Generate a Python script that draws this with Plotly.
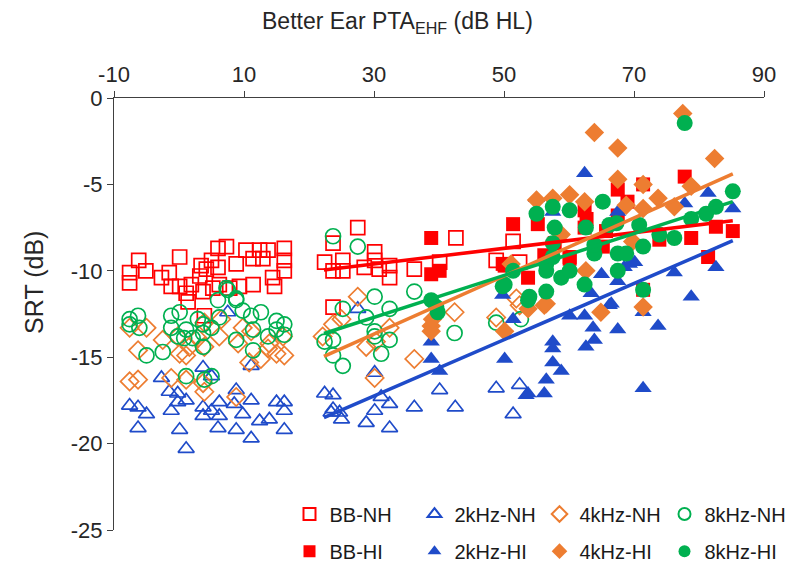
import plotly.graph_objects as go

# ---------------- data ----------------
bb_nh_x = [-7.6, -7.6, -6.2, -5.1, -2.7, -1.5, 0.1, -1.2, 0.1, 1.1, 1.4, 1.9, 3.2, 3.4, 3.7, 3.9, 4.2, 5.0, 5.2,
           6.0, 6.0, 7.3, 6.2, 7.8, 8.8, 9.3, 10.3, 11.4, 12.4, 13.7, 12.9, 11.4, 14.4, 14.7, 16.2, 16.2, 16.2,
           22.4, 23.7, 23.7, 23.7, 25.2, 25.2, 27.5, 28.5, 30.1, 30.1, 30.8, 32.4, 32.4, 36.2, 40.1, 42.6,
           48.8, 51.4, 52.4]
bb_nh_y = [-10.1, -10.7, -9.4, -10.0, -10.4, -10.1, -9.2, -10.9, -10.9, -11.3, -11.8, -10.8, -10.3, -9.7, -11.2,
           -12.6, -9.9, -9.4, -11.0, -8.7, -9.8, -8.6, -10.8, -11.0, -9.6, -10.9, -8.8, -9.3, -8.8, -8.8, -9.3,
           -10.8, -10.4, -10.9, -8.7, -9.4, -10.0,
           -9.5, -8.4, -10.0, -12.1, -9.4, -10.0, -7.5, -9.8, -8.9, -9.4, -9.9, -9.7, -10.4, -9.9, -9.5, -8.1,
           -9.4, -8.3, -9.5]

k2_nh_x = [3.7, -2.7, 11.1, -7.6, -6.3, -5.0, -6.3, -1.5, -0.2, -1.2, 1.1, 0.1, 1.1, 3.7, 3.7, 5.0, 6.2, 6.2,
           8.8, 8.5, 9.8, 11.1, 8.8, 6.0, 11.1, 12.4, 13.9, 15.0, 16.2, 16.2, 16.2, -0.2, 5.0, 7.5,
           22.4, 23.7, 23.7, 24.7, 25.0, 23.4, 28.8, 30.1, 31.1, 32.4, 32.4, 36.2, 40.1, 42.5, 48.8, 52.4,
           51.4, 30.1, 27.5]
k2_nh_y = [-15.6, -16.2, -15.5, -17.8, -17.9, -18.3, -19.1, -17.0, -17.6, -18.1, -17.5, -19.2, -20.3, -17.9,
           -18.4, -18.1, -17.6, -18.4, -16.9, -17.7, -18.3, -17.5, -19.2, -19.1, -19.7, -18.7, -18.6, -17.6,
           -17.6, -18.1, -19.2, -17.1, -16.1, -12.4,
           -17.1, -17.2, -18.0, -18.2, -18.6, -18.2, -18.8, -18.1, -17.3, -17.7, -19.1, -17.9, -16.9, -17.9,
           -16.8, -16.6, -18.3, -15.9, -12.2]

k4_nh_x = [-7.6, -5.0, -6.3, -7.6, -6.3, -2.5, -1.2, -0.2, 0.1, 1.1, 1.6, 1.1, 3.9, 3.9, 3.9, 6.2, 6.5, 8.8,
           9.1, 9.8, 11.1, 10.8, 12.6, 13.9, 15.0, 16.2, 16.0, 2.9, 3.7, 13.7,
           22.1, 23.7, 25.0, 27.5, 28.8, 30.3, 30.1, 32.4, 36.2, 42.4, 48.8, 51.9, 52.4]
k4_nh_y = [-13.3, -13.3, -14.6, -16.4, -16.3, -14.0, -16.2, -13.8, -14.8, -14.9, -14.4, -16.3, -13.0, -14.4,
           -17.0, -13.8, -12.8, -17.3, -14.2, -13.3, -13.5, -15.3, -15.1, -14.2, -14.8, -14.9, -13.8, -13.9,
           -16.5, -14.5,
           -13.8, -13.1, -12.8, -11.5, -14.4, -14.1, -16.2, -13.3, -15.1, -12.4, -12.7, -11.6, -12.0]

k8_nh_x = [-7.6, -7.6, -6.3, -6.1, -5.0, -2.5, -1.2, 0.1, -1.2, -0.2, 1.1, 0.8, 2.1, 3.7, 3.7, 3.7, 5.0, 6.0,
           6.2, 7.5, 8.8, 8.8, 9.8, 11.1, 11.4, 11.4, 12.6, 13.7, 15.0, 15.0, 16.2, 16.2, 1.1, 3.9, 5.0,
           7.3, 8.8, 2.9,
           23.7, 27.5, 36.2, 30.1, 32.4, 25.2, 28.8, 22.4, 23.7, 23.7, 30.1, 30.1, 32.4, 31.1, 25.2, 42.4,
           48.8, 52.6]
k8_nh_y = [-12.8, -13.1, -12.6, -13.3, -14.9, -14.7, -12.6, -12.4, -13.3, -13.8, -13.4, -13.9, -13.9, -13.1,
           -13.6, -14.4, -13.3, -11.7, -12.7, -11.1, -11.7, -14.0, -12.3, -12.6, -13.4, -14.6, -12.4, -13.8,
           -12.9, -13.4, -13.1, -13.7, -16.1, -16.3, -16.1, -11.0, -11.6, -12.8,
           -8.0, -8.6, -11.2, -11.5, -12.2, -12.2, -12.7, -14.1, -14.0, -14.9, -13.5, -13.8, -14.0, -14.8,
           -15.5, -13.6, -13.0, -12.8]

bb_hi_x = [38.8, 38.8, 40.1, 49.8, 50.1, 51.4, 53.7, 55.2, 56.2, 56.5, 57.8, 60.1, 60.1, 62.4, 62.7, 62.4,
           65.2, 65.7, 67.5, 67.5, 69.0, 71.4, 71.4, 73.9, 77.8, 78.8, 81.4, 82.6, 85.2]
bb_hi_y = [-8.1, -10.2, -10.0, -9.6, -9.7, -7.3, -10.4, -7.3, -9.1, -9.2, -8.4, -9.2, -9.3, -6.5, -7.0, -7.5,
           -8.6, -7.7, -5.3, -6.8, -6.0, -5.0, -11.1, -8.2, -4.55, -8.1, -9.2, -7.45, -7.7]

k2_hi_x = [38.8, 38.8, 40.1, 49.8, 50.1, 51.4, 53.4, 53.7, 55.0, 56.2, 56.5, 57.5, 57.5, 57.5, 57.5, 58.8,
           60.1, 62.4, 62.4, 62.6, 63.4, 63.7, 63.9, 65.0, 66.2, 66.5, 67.5, 67.5, 67.5, 68.5, 69.3, 70.1,
           71.4, 71.4, 73.7, 76.2, 77.8, 78.8, 81.4, 82.6, 85.2]
k2_hi_y = [-14.1, -15.1, -15.8, -11.4, -15.1, -12.8, -17.2, -17.1, -5.8, -17.1, -16.3, -6.6, -14.1, -14.5,
           -15.3, -15.8, -12.6, -4.35, -12.6, -14.4, -11.3, -13.3, -14.0, -10.2, -12.0, -11.9, -6.6, -10.6,
           -13.4, -9.8, -9.6, -9.5, -12.4, -16.8, -13.2, -10.1, -6.1, -11.5, -5.5, -9.8, -6.4]

k4_hi_x = [38.8, 38.8, 39.0, 50.1, 51.1, 53.7, 55.0, 56.2, 56.5, 57.5, 58.8, 60.1, 62.4, 62.6, 63.9, 64.9,
           67.5, 67.5, 68.8, 69.8, 71.4, 71.4, 71.4, 73.7, 76.2, 77.5, 78.8, 82.4]
k4_hi_y = [-13.2, -13.5, -12.8, -13.5, -9.6, -12.2, -5.9, -12.0, -11.9, -5.8, -7.9, -5.6, -6.0, -10.0, -2.0,
           -12.4, -2.9, -4.7, -6.2, -8.3, -5.0, -6.4, -12.1, -5.8, -6.3, -0.9, -5.1, -3.5]

k8_hi_x = [38.8, 39.6, 39.8, 49.8, 50.1, 51.4, 53.7, 53.9, 55.0, 56.5, 56.5, 56.5, 57.5, 57.5, 57.5, 57.8,
           58.8, 60.1, 60.1, 62.4, 62.6, 63.9, 63.9, 65.2, 66.2, 67.3, 67.5, 67.5, 68.8, 70.8, 71.4, 71.4,
           73.9, 76.2, 77.8, 78.8, 81.1, 82.6, 85.2]
k8_hi_y = [-11.7, -12.1, -12.4, -10.9, -10.8, -10.0, -11.7, -11.5, -6.7, -11.2, -10.0, -9.6, -9.2, -6.3, -8.4,
           -7.5, -10.4, -10.0, -6.5, -10.8, -7.5, -9.0, -8.5, -6.0, -7.35, -7.25, -9.0, -10.0, -9.0, -7.35,
           -8.6, -11.1, -7.9, -8.1, -1.45, -7.0, -6.7, -6.3, -5.4]

# linear trend lines (end points)
trend_x = [22.3, 85.2]
bb_trend = [-9.96, -7.1]
k2_trend = [-18.5, -8.26]
k4_trend = [-14.95, -4.39]
k8_trend = [-13.63, -6.0]

x_ticks = [-10, 10, 30, 50, 70, 90]
y_ticks = [0, -5, -10, -15, -20, -25]

RED = "#FF0000"
BLUE = "#1F4BC9"
ORANGE = "#ED7D31"
GREEN = "#00B050"
FONT = "Liberation Sans, Arial, sans-serif"

fig = go.Figure()

open_series = [
    ("BB-NH", bb_nh_x, bb_nh_y, RED, "square-open", 14),
    ("2kHz-NH", k2_nh_x, k2_nh_y, BLUE, "triangle-up-open", 14),
    ("4kHz-NH", k4_nh_x, k4_nh_y, ORANGE, "diamond-open", 14),
    ("8kHz-NH", k8_nh_x, k8_nh_y, GREEN, "circle-open", 15),
]
filled_series = [
    ("BB-HI", bb_hi_x, bb_hi_y, RED, "square", 14),
    ("2kHz-HI", k2_hi_x, k2_hi_y, BLUE, "triangle-up", 15),
    ("4kHz-HI", k4_hi_x, k4_hi_y, ORANGE, "diamond", 15),
    ("8kHz-HI", k8_hi_x, k8_hi_y, GREEN, "circle", 16),
]

for name, xs, ys, col, sym, sz in open_series:
    fig.add_trace(go.Scatter(
        x=xs, y=ys, mode="markers", name=name, legend="legend",
        marker=dict(symbol=sym, size=sz, color=col, line=dict(color=col, width=1.7)),
    ))

for name, xs, ys, col, sym, sz in filled_series:
    fig.add_trace(go.Scatter(
        x=xs, y=ys, mode="markers", name=name, legend="legend2",
        marker=dict(symbol=sym, size=sz, color=col, line=dict(width=0)),
    ))

for ys, col in [(bb_trend, RED), (k2_trend, BLUE), (k4_trend, ORANGE), (k8_trend, GREEN)]:
    fig.add_trace(go.Scatter(
        x=trend_x, y=ys, mode="lines", showlegend=False, hoverinfo="skip",
        line=dict(color=col, width=3.5),
    ))

legend_common = dict(
    orientation="h", xanchor="left", yanchor="middle",
    font=dict(family=FONT, size=20, color="#1a1a1a"),
    bgcolor="rgba(0,0,0,0)", itemsizing="constant",
    entrywidth=80, entrywidthmode="pixels", tracegroupgap=0,
)

fig.update_layout(
    width=785, height=567,
    margin=dict(l=113.5, r=21, t=98.3, b=37, autoexpand=False),
    paper_bgcolor="white", plot_bgcolor="white",
    font=dict(family=FONT, color="#333333"),
    showlegend=True,
    hovermode=False,
    legend=dict(x=0.27, y=0.037, **legend_common),
    legend2=dict(x=0.27, y=-0.049, **legend_common),
    xaxis=dict(
        side="top", range=[-10, 90], tickvals=x_ticks, ticktext=[str(v) for v in x_ticks],
        showgrid=False, zeroline=False, showline=True, linecolor="#404040", linewidth=1.3,
        ticks="outside", ticklen=6, tickcolor="#404040", tickwidth=1.3,
        tickfont=dict(family=FONT, size=22, color="#262626"),
    ),
    yaxis=dict(
        range=[-25, 0], tickvals=y_ticks, ticktext=[str(v) for v in y_ticks],
        showgrid=False, zeroline=False, showline=True, linecolor="#404040", linewidth=1.3,
        ticks="outside", ticklen=6, tickcolor="#404040", tickwidth=1.3,
        tickfont=dict(family=FONT, size=22, color="#262626"),
    ),
    annotations=[
        dict(text="Better Ear PTA<sub>EHF</sub> (dB HL)", xref="paper", yref="paper",
             x=0.436, y=1.0, yshift=76, showarrow=False, xanchor="center", yanchor="middle",
             font=dict(family=FONT, size=23, color="#262626")),
        dict(text="SRT (dB)", xref="paper", yref="paper", x=0, xshift=-80, y=0.572,
             showarrow=False, textangle=-90, xanchor="center", yanchor="middle",
             font=dict(family=FONT, size=25, color="#262626")),
    ],
)

# remove the browser's default 8px page margin so the figure fills the window exactly
fig.write_html("out.html", config={"displayModeBar": False},
               post_script="document.body.style.margin='0px';")
